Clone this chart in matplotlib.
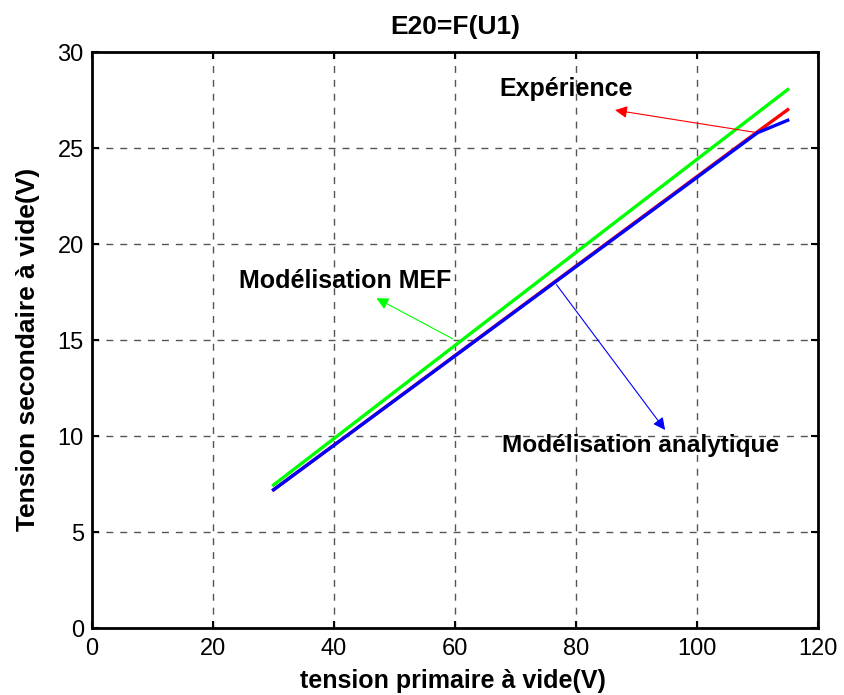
import matplotlib
matplotlib.use("Agg")
import matplotlib.pyplot as plt

plt.rcParams['font.family'] = ['Liberation Sans', 'DejaVu Sans']

# tension primaire (V) and tension secondaire (V)
u1 = [30, 110, 115]
e_mef = [7.45, 26.84, 28.05]
e_exp = [7.2, 25.85, 27.0]
e_ana = [7.2, 25.8, 26.45]

fig = plt.figure(figsize=(8.45, 6.95), dpi=100)
ax = fig.add_axes([0.109, 0.0964, 0.859, 0.8286])

ax.plot(u1, e_mef, color='#00ff00', lw=2.4)
ax.plot(u1, e_exp, color='red', lw=2.4)
ax.plot(u1, e_ana, color='blue', lw=2.4)

ax.set_xlim(0, 120)
ax.set_ylim(0, 30)
ax.set_xticks(range(0, 121, 20))
ax.set_yticks(range(0, 31, 5))
ax.tick_params(direction='in', top=True, right=True, labelsize=17, length=5, width=1.5)
ax.tick_params(axis='x', pad=7)
ax.tick_params(axis='y', pad=6)
for s in ax.spines.values():
    s.set_linewidth(2)
ax.grid(True, color='#555555', linestyle=(0, (5, 5)), lw=1)

ax.set_title('E20=F(U1)', fontsize=19, fontweight='bold', pad=13)
ax.set_xlabel('tension primaire à vide(V)', fontsize=18, fontweight='bold')
ax.set_ylabel('Tension secondaire à vide(V)', fontsize=19, fontweight='bold')
ax.xaxis.set_label_coords(0.497, -0.072)
ax.yaxis.set_label_coords(-0.072, 0.484)

ax.annotate('', xy=(86, 27.0), xytext=(110, 25.8),
            arrowprops=dict(arrowstyle='-|>', color='red', lw=0.8, mutation_scale=18))
ax.text(78.3, 28.1, 'Expérience', fontsize=18, fontweight='bold', ha='center', va='center')

ax.annotate('', xy=(46.6, 17.25), xytext=(60.0, 15.0),
            arrowprops=dict(arrowstyle='-|>', color='#00ff00', lw=0.8, mutation_scale=18))
ax.text(41.8, 18.1, 'Modélisation MEF', fontsize=18, fontweight='bold', ha='center', va='center')

ax.annotate('', xy=(95, 10.2), xytext=(76.5, 18.0),
            arrowprops=dict(arrowstyle='-|>', color='blue', lw=0.8, mutation_scale=18))
ax.text(90.6, 9.5, 'Modélisation analytique', fontsize=17.6, fontweight='bold', ha='center', va='center')

fig.savefig('out.png', dpi=100)
